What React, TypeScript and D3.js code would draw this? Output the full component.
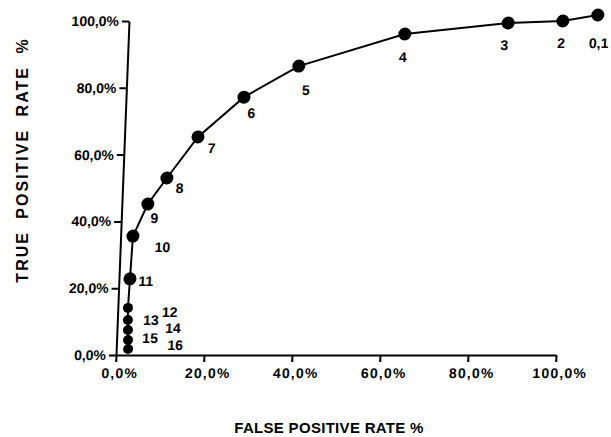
import React, { useEffect, useRef } from 'react';
import * as d3 from 'd3';

// --- data ---
const pointLabels = ['0,1', '2', '3', '4', '5', '6', '7', '8', '9', '10', '11', '12', '13', '14', '15', '16'];
const falsePositive = [106.5, 98.6, 86.2, 62.8, 39.0, 26.8, 16.7, 10.0, 5.9, 2.8, 2.5, 2.3, 2.4, 2.5, 2.6, 2.7];
const truePositive = [101.8, 100.0, 99.4, 96.1, 86.5, 77.2, 65.3, 53.0, 45.2, 35.6, 22.8, 14.1, 10.5, 7.5, 4.5, 1.8];
const axisTicks = [0, 20, 40, 60, 80, 100];

// layout only: label offset from its dot, and whether the dot is a small one
const labelOffsets = [[2, 33], [-1, 27], [-3, 27], [-1, 28], [8, 29], [8, 21], [14, 16], [13, 15], [7, 19], [30, 16], [16, 7], [42, 9], [23, 5], [45, 3], [22, 3], [47, 1]];
const smallDot = [false, false, false, false, false, false, false, false, false, false, false, true, true, true, true, true];

const W = 611, H = 437;
const FONT = '"Liberation Sans", Arial, sans-serif';
const fmt = (d: number) => d.toFixed(1).replace('.', ',') + '%';

export default function App() {
  const ref = useRef<SVGSVGElement>(null);

  useEffect(() => {
    const svg = d3.select(ref.current);
    svg.selectAll('*').remove();

    const x = d3.scaleLinear().domain([0, 100]).range([116, 556]);
    const y = d3.scaleLinear().domain([0, 100]).range([355, 21]);

    // the scanned original leans a little to the right
    const plot = svg.append('g')
      .attr('transform', `translate(0,${y(0)}) skewX(-2.23) translate(0,${-y(0)})`)
      .style('font-family', FONT);

    const xAxis = plot.append('g')
      .attr('transform', `translate(0,${y(0)})`)
      .call(d3.axisBottom(x).tickValues(axisTicks).tickFormat(fmt as any).tickSize(7).tickSizeOuter(0).tickPadding(6));
    xAxis.select('.domain').attr('stroke-width', 2);
    xAxis.selectAll('.tick line').attr('stroke-width', 2);
    xAxis.selectAll('.tick text')
      .attr('dx', 4)
      .style('font-size', '14px').style('font-weight', 'bold').style('letter-spacing', '1.2px').style('font-family', FONT);

    const yAxis = plot.append('g')
      .attr('transform', `translate(${x(0)},0)`)
      .call(d3.axisLeft(y).tickValues(axisTicks).tickFormat(fmt as any).tickSize(7).tickSizeOuter(0).tickPadding(3));
    yAxis.select('.domain').attr('stroke-width', 2);
    yAxis.selectAll('.tick line').attr('stroke-width', 2);
    yAxis.selectAll('.tick text')
      .style('font-size', '14px').style('font-weight', 'bold').style('font-family', FONT);

    const pts = pointLabels.map((label, i) => ({
      label, fp: falsePositive[i], tp: truePositive[i], off: labelOffsets[i], small: smallDot[i],
    }));

    const line = d3.line<any>().x(d => x(d.fp)).y(d => y(d.tp));
    plot.append('path')
      .datum(pts)
      .attr('d', line)
      .attr('fill', 'none')
      .attr('stroke', '#000')
      .attr('stroke-width', 2);

    plot.selectAll('circle.dot')
      .data(pts)
      .enter().append('circle')
      .attr('class', 'dot')
      .attr('cx', d => x(d.fp))
      .attr('cy', d => y(d.tp))
      .attr('r', d => d.small ? 5 : 6.5)
      .attr('fill', '#000');

    plot.selectAll('text.lbl')
      .data(pts)
      .enter().append('text')
      .attr('class', 'lbl')
      .attr('x', d => x(d.fp) + d.off[0])
      .attr('y', d => y(d.tp) + d.off[1])
      .attr('text-anchor', 'middle')
      .style('font-size', '14px')
      .style('font-weight', 'bold')
      .text(d => d.label);

    svg.append('text')
      .attr('transform', 'translate(28,160) rotate(-90)')
      .attr('text-anchor', 'middle')
      .style('font-family', FONT)
      .style('font-size', '16px')
      .style('font-weight', 'bold')
      .style('letter-spacing', '2px')
      .style('word-spacing', '6px')
      .text('TRUE POSITIVE RATE %');

    svg.append('text')
      .attr('x', 329)
      .attr('y', 433)
      .attr('text-anchor', 'middle')
      .style('font-family', FONT)
      .style('font-size', '15px')
      .style('font-weight', 'bold')
      .style('letter-spacing', '0.3px')
      .text('FALSE POSITIVE RATE %');
  }, []);

  return (
    <svg ref={ref} width={W} height={H}
      style={{ position: 'absolute', left: 0, top: 0, background: '#fff' }} />
  );
}
